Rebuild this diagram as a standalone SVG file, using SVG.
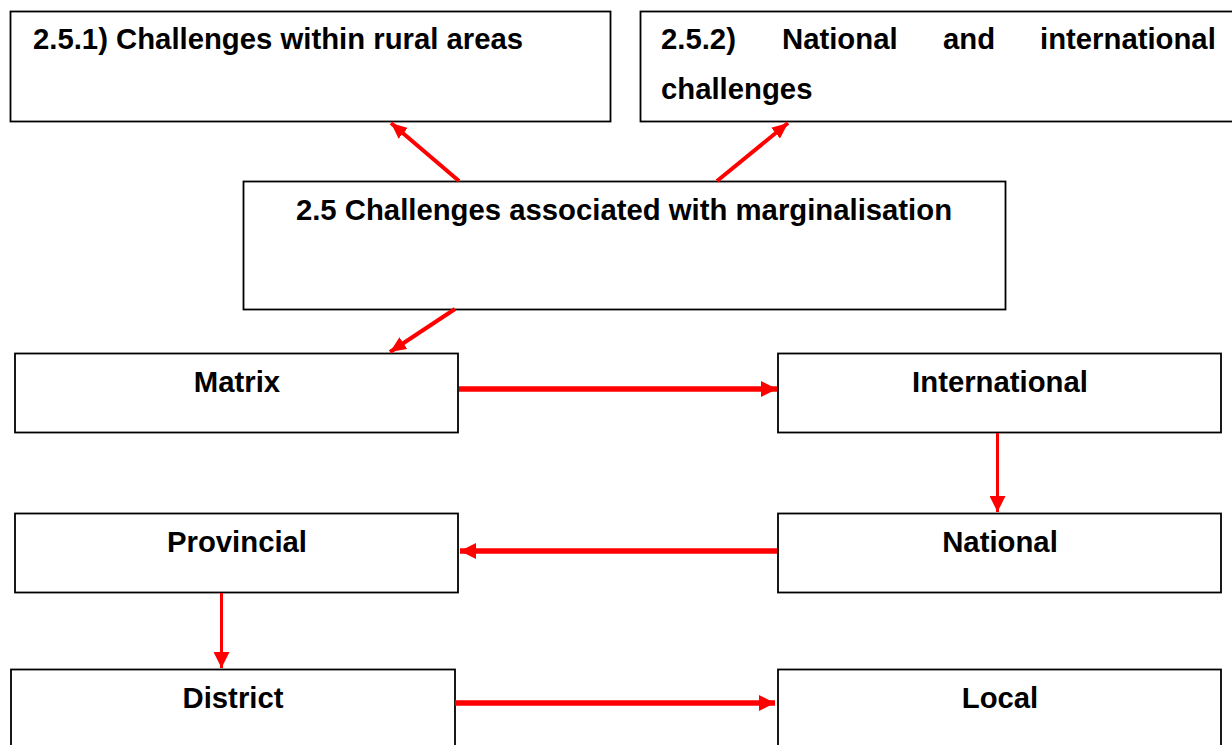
<svg xmlns="http://www.w3.org/2000/svg" width="1232" height="745" viewBox="0 0 1232 745">
  <style>
    .box { fill: #ffffff; stroke: #000000; stroke-width: 1.8; }
    .lbl { font-family: "Liberation Sans", Arial, sans-serif; font-weight: bold; font-size: 29.3px; fill: #000000; }
    .mid { text-anchor: middle; }
    .thick { stroke: #ff0000; stroke-width: 5.5; fill: none; }
    .diag { stroke: #ff0000; stroke-width: 4; fill: none; }
    .thin { stroke: #ff0000; stroke-width: 3; fill: none; }
  </style>
  <defs>
    <marker id="headBig" markerUnits="userSpaceOnUse" markerWidth="16" markerHeight="16" refX="16" refY="8" orient="auto">
      <path d="M0,0 L16,8 L0,16 Z" fill="#ff0000"/>
    </marker>
    <marker id="headMid" markerUnits="userSpaceOnUse" markerWidth="16" markerHeight="14" refX="16" refY="7" orient="auto">
      <path d="M0,0 L16,7 L0,14 Z" fill="#ff0000"/>
    </marker>
  </defs>

  <rect width="1232" height="745" fill="#ffffff"/>

  <!-- top row -->
  <g id="rural">
    <rect class="box" x="10.5" y="11.5" width="600" height="110"/>
    <text class="lbl" x="33" y="49">2.5.1) Challenges within rural areas</text>
  </g>
  <g id="national-international">
    <rect class="box" x="640.5" y="11.5" width="600" height="110"/>
    <text class="lbl" y="49"><tspan x="661">2.5.2)</tspan><tspan x="782">National</tspan><tspan x="943">and</tspan><tspan x="1040">international</tspan></text>
    <text class="lbl" x="661" y="99">challenges</text>
  </g>

  <!-- central topic -->
  <g id="marginalisation">
    <rect class="box" x="243.5" y="181.5" width="762" height="128"/>
    <text class="lbl mid" x="624" y="220">2.5 Challenges associated with marginalisation</text>
  </g>

  <!-- levels -->
  <g id="matrix">
    <rect class="box" x="15" y="353.5" width="443" height="79"/>
    <text class="lbl mid" x="237" y="392">Matrix</text>
  </g>
  <g id="international">
    <rect class="box" x="778" y="353.5" width="443" height="79"/>
    <text class="lbl mid" x="1000" y="392">International</text>
  </g>
  <g id="provincial">
    <rect class="box" x="15" y="513.5" width="443" height="79"/>
    <text class="lbl mid" x="237" y="552">Provincial</text>
  </g>
  <g id="national">
    <rect class="box" x="778" y="513.5" width="443" height="79"/>
    <text class="lbl mid" x="1000" y="552">National</text>
  </g>
  <g id="district">
    <rect class="box" x="11" y="669.5" width="444" height="90"/>
    <text class="lbl mid" x="233" y="708">District</text>
  </g>
  <g id="local">
    <rect class="box" x="778" y="669.5" width="443" height="90"/>
    <text class="lbl mid" x="1000" y="708">Local</text>
  </g>

  <!-- connectors -->
  <g id="connectors">
    <line class="diag" x1="459" y1="181" x2="391" y2="123" marker-end="url(#headMid)"/>
    <line class="diag" x1="717" y1="181" x2="788" y2="123" marker-end="url(#headMid)"/>
    <line class="diag" x1="455" y1="309" x2="390" y2="352" marker-end="url(#headMid)"/>
    <line class="thick" x1="459" y1="389" x2="777" y2="389" marker-end="url(#headBig)"/>
    <line class="thin" x1="997.5" y1="433" x2="997.5" y2="512" marker-end="url(#headBig)"/>
    <line class="thick" x1="777" y1="551" x2="460" y2="551" marker-end="url(#headBig)"/>
    <line class="thin" x1="221.5" y1="593" x2="221.5" y2="668" marker-end="url(#headBig)"/>
    <line class="thick" x1="455" y1="703" x2="775" y2="703" marker-end="url(#headBig)"/>
  </g>
</svg>
